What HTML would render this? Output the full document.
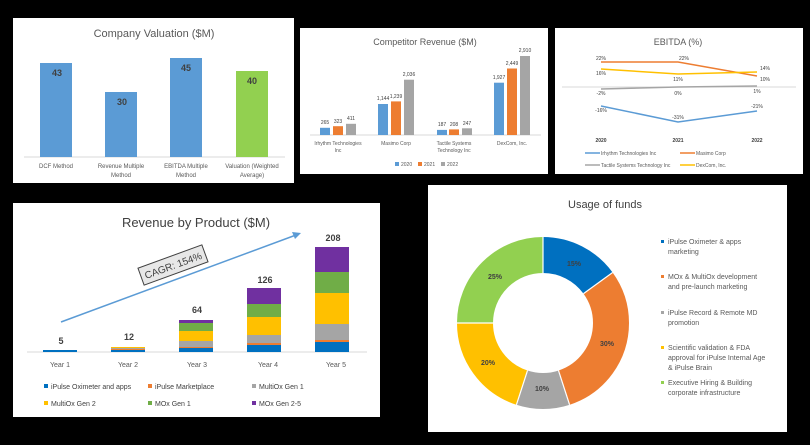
<!DOCTYPE html>
<html><head><meta charset="utf-8"><style>
html,body{margin:0;padding:0;background:#000;width:810px;height:445px;overflow:hidden}
svg{display:block;font-family:"Liberation Sans",sans-serif}
</style></head><body>
<svg width="810" height="445" viewBox="0 0 810 445">
<rect width="810" height="445" fill="#000"/>
<!-- Panel 1 -->
<rect x="13" y="18" width="281" height="165" fill="#fff"/>
<text x="154" y="37" font-size="11" fill="#595959" text-anchor="middle">Company Valuation ($M)</text>
<line x1="24" y1="157" x2="285" y2="157" stroke="#d9d9d9"/>
<rect x="40" y="63" width="32" height="94" fill="#5b9bd5"/>
<rect x="105" y="92" width="32" height="65" fill="#5b9bd5"/>
<rect x="170" y="58" width="32" height="99" fill="#5b9bd5"/>
<rect x="236" y="71" width="32" height="86" fill="#92d050"/>
<g font-size="9" font-weight="bold" fill="#404040" text-anchor="middle">
<text x="57" y="76">43</text><text x="122" y="105">30</text><text x="186" y="71">45</text><text x="252" y="84">40</text></g>
<g font-size="6" fill="#595959" text-anchor="middle">
<text x="56" y="168">DCF Method</text>
<text x="121" y="168">Revenue Multiple</text><text x="121" y="177">Method</text>
<text x="186" y="168">EBITDA Multiple</text><text x="186" y="177">Method</text>
<text x="252" y="168">Valuation (Weighted</text><text x="252" y="177">Average)</text></g>

<!-- Panel 2 -->
<rect x="300" y="28" width="248" height="146" fill="#fff"/>
<text x="425" y="45" font-size="9" fill="#595959" text-anchor="middle">Competitor Revenue ($M)</text>
<line x1="310" y1="135" x2="541" y2="135" stroke="#d9d9d9"/>
<g>
<rect x="320" y="127.8" width="10" height="7.2" fill="#5b9bd5"/><rect x="333" y="126.2" width="10" height="8.8" fill="#ed7d31"/><rect x="346" y="123.8" width="10" height="11.2" fill="#a5a5a5"/>
<rect x="378" y="104" width="10" height="31" fill="#5b9bd5"/><rect x="391" y="101.4" width="10" height="33.6" fill="#ed7d31"/><rect x="404" y="79.7" width="10" height="55.3" fill="#a5a5a5"/>
<rect x="437" y="129.9" width="10" height="5.1" fill="#5b9bd5"/><rect x="449" y="129.4" width="10" height="5.6" fill="#ed7d31"/><rect x="462" y="128.3" width="10" height="6.7" fill="#a5a5a5"/>
<rect x="494" y="82.7" width="10" height="52.3" fill="#5b9bd5"/><rect x="507" y="68.5" width="10" height="66.5" fill="#ed7d31"/><rect x="520" y="56" width="10" height="79" fill="#a5a5a5"/>
</g>
<g font-size="5" fill="#404040" text-anchor="middle">
<text x="325" y="124">265</text><text x="338" y="123">323</text><text x="351" y="120">411</text>
<text x="383" y="100">1,144</text><text x="396" y="98">1,239</text><text x="409" y="76">2,036</text>
<text x="442" y="126">187</text><text x="454" y="126">208</text><text x="467" y="125">247</text>
<text x="499" y="79">1,927</text><text x="512" y="65">2,449</text><text x="525" y="52">2,910</text></g>
<g font-size="5" fill="#595959" text-anchor="middle">
<text x="338" y="145">Irhythm Technologies</text><text x="338" y="152">Inc</text>
<text x="396" y="145">Masimo Corp</text>
<text x="454" y="145">Tactile Systems</text><text x="454" y="152">Technology Inc</text>
<text x="512" y="145">DexCom, Inc.</text></g>
<g font-size="5" fill="#595959">
<rect x="395" y="162" width="4" height="4" fill="#5b9bd5"/><text x="401" y="166">2020</text>
<rect x="418" y="162" width="4" height="4" fill="#ed7d31"/><text x="424" y="166">2021</text>
<rect x="441" y="162" width="4" height="4" fill="#a5a5a5"/><text x="447" y="166">2022</text></g>

<!-- Panel 3 -->
<rect x="555" y="28" width="248" height="146" fill="#fff"/>
<text x="678" y="45" font-size="9" fill="#595959" text-anchor="middle">EBITDA (%)</text>
<line x1="562" y1="87" x2="796" y2="87" stroke="#d9d9d9"/>
<polyline points="601,62 678,62 757,76" fill="none" stroke="#ed7d31" stroke-width="1.5"/>
<polyline points="601,69 678,74 757,72" fill="none" stroke="#ffc000" stroke-width="1.5"/>
<polyline points="601,89 678,87 757,86" fill="none" stroke="#a5a5a5" stroke-width="1.5"/>
<polyline points="601,106 678,122 757,111" fill="none" stroke="#5b9bd5" stroke-width="1.5"/>
<g font-size="5" fill="#404040" text-anchor="middle">
<text x="601" y="60">22%</text><text x="684" y="60">22%</text><text x="765" y="81">10%</text>
<text x="601" y="75">16%</text><text x="678" y="81">11%</text><text x="765" y="70">14%</text>
<text x="601" y="95">-2%</text><text x="678" y="95">0%</text><text x="757" y="93">1%</text>
<text x="601" y="112">-16%</text><text x="678" y="119">-31%</text><text x="757" y="108">-21%</text></g>
<g font-size="5" fill="#404040" font-weight="bold" text-anchor="middle">
<text x="601" y="142">2020</text><text x="678" y="142">2021</text><text x="757" y="142">2022</text></g>
<g font-size="5" fill="#595959">
<line x1="585" y1="153" x2="600" y2="153" stroke="#5b9bd5" stroke-width="1.5"/><text x="601" y="155">Irhythm Technologies Inc</text>
<line x1="680" y1="153" x2="695" y2="153" stroke="#ed7d31" stroke-width="1.5"/><text x="696" y="155">Masimo Corp</text>
<line x1="585" y1="165" x2="600" y2="165" stroke="#a5a5a5" stroke-width="1.5"/><text x="601" y="167">Tactile Systems Technology Inc</text>
<line x1="680" y1="165" x2="695" y2="165" stroke="#ffc000" stroke-width="1.5"/><text x="696" y="167">DexCom, Inc.</text></g>

<!-- Panel 4 -->
<rect x="13" y="203" width="367" height="214" fill="#fff"/>
<text x="196" y="227" font-size="13" fill="#404040" text-anchor="middle">Revenue by Product ($M)</text>
<line x1="27" y1="352" x2="367" y2="352" stroke="#d9d9d9"/>
<rect x="43" y="350" width="34" height="2" fill="#0070c0"/>
<rect x="111" y="350" width="34" height="2" fill="#0070c0"/><rect x="111" y="349" width="34" height="1" fill="#ed7d31"/><rect x="111" y="348" width="34" height="1" fill="#a5a5a5"/><rect x="111" y="347" width="34" height="1" fill="#ffc000"/>
<rect x="179" y="348" width="34" height="4" fill="#0070c0"/><rect x="179" y="347" width="34" height="1" fill="#ed7d31"/><rect x="179" y="341" width="34" height="6" fill="#a5a5a5"/><rect x="179" y="331" width="34" height="10" fill="#ffc000"/><rect x="179" y="323" width="34" height="8" fill="#70ad47"/><rect x="179" y="320" width="34" height="3" fill="#7030a0"/>
<rect x="247" y="345" width="34" height="7" fill="#0070c0"/><rect x="247" y="343" width="34" height="2" fill="#ed7d31"/><rect x="247" y="335" width="34" height="8" fill="#a5a5a5"/><rect x="247" y="317" width="34" height="18" fill="#ffc000"/><rect x="247" y="304" width="34" height="13" fill="#70ad47"/><rect x="247" y="288" width="34" height="16" fill="#7030a0"/>
<rect x="315" y="342" width="34" height="10" fill="#0070c0"/><rect x="315" y="340" width="34" height="2" fill="#ed7d31"/><rect x="315" y="324" width="34" height="16" fill="#a5a5a5"/><rect x="315" y="293" width="34" height="31" fill="#ffc000"/><rect x="315" y="272" width="34" height="21" fill="#70ad47"/><rect x="315" y="247" width="34" height="25" fill="#7030a0"/>
<g font-size="9" font-weight="bold" fill="#404040" text-anchor="middle">
<text x="61" y="344">5</text><text x="129" y="340">12</text><text x="197" y="313">64</text><text x="265" y="283">126</text><text x="333" y="241">208</text></g>
<g font-size="7" fill="#595959" text-anchor="middle">
<text x="60" y="367">Year 1</text><text x="128" y="367">Year 2</text><text x="197" y="367">Year 3</text><text x="268" y="367">Year 4</text><text x="336" y="367">Year 5</text></g>
<line x1="61" y1="322" x2="296" y2="235" stroke="#5b9bd5" stroke-width="1.5"/>
<polygon points="301,233 292,232 295,239" fill="#5b9bd5"/>
<g transform="translate(173,265) rotate(-20)">
<rect x="-34" y="-9" width="68" height="18" fill="#e7e7e7" stroke="#404040" stroke-width="1"/>
<text x="0" y="4" font-size="10" fill="#404040" text-anchor="middle">CAGR: 154%</text></g>
<g font-size="7" fill="#404040">
<rect x="44" y="384" width="4" height="4" fill="#0070c0"/><text x="51" y="389">iPulse Oximeter and apps</text>
<rect x="148" y="384" width="4" height="4" fill="#ed7d31"/><text x="155" y="389">iPulse Marketplace</text>
<rect x="252" y="384" width="4" height="4" fill="#a5a5a5"/><text x="259" y="389">MultiOx Gen 1</text>
<rect x="44" y="401" width="4" height="4" fill="#ffc000"/><text x="51" y="406">MultiOx Gen 2</text>
<rect x="148" y="401" width="4" height="4" fill="#70ad47"/><text x="155" y="406">MOx Gen 1</text>
<rect x="252" y="401" width="4" height="4" fill="#7030a0"/><text x="259" y="406">MOx Gen 2-5</text></g>

<!-- Panel 5 -->
<rect x="428" y="185" width="359" height="247" fill="#fff"/>
<text x="605" y="208" font-size="11" fill="#404040" text-anchor="middle">Usage of funds</text>
<g transform="translate(543,323) rotate(-90)" fill="none" stroke-width="36">
<circle r="68" stroke="#0070c0" stroke-dasharray="64.09 363.17" stroke-dashoffset="0"/>
<circle r="68" stroke="#ed7d31" stroke-dasharray="128.18 299.08" stroke-dashoffset="-64.09"/>
<circle r="68" stroke="#a5a5a5" stroke-dasharray="42.73 384.53" stroke-dashoffset="-192.27"/>
<circle r="68" stroke="#ffc000" stroke-dasharray="85.45 341.81" stroke-dashoffset="-235"/>
<circle r="68" stroke="#92d050" stroke-dasharray="106.81 320.45" stroke-dashoffset="-320.45"/>
</g>
<g stroke="#fff" stroke-width="1.2">
<line x1="543" y1="273" x2="543" y2="237"/>
<line x1="583.5" y1="293.6" x2="612.6" y2="272.5"/>
<line x1="558.5" y1="370.6" x2="569.6" y2="404.8"/>
<line x1="527.5" y1="370.6" x2="516.4" y2="404.8"/>
<line x1="493" y1="323" x2="457" y2="323"/></g>
<g font-size="7" font-weight="bold" fill="#404040" text-anchor="middle">
<text x="574" y="266">15%</text><text x="607" y="346">30%</text><text x="542" y="391">10%</text><text x="488" y="365">20%</text><text x="495" y="279">25%</text></g>
<g font-size="7" fill="#595959">
<rect x="661" y="240" width="3" height="3" fill="#0070c0"/><text x="668" y="244">iPulse Oximeter &amp; apps</text><text x="668" y="254">marketing</text>
<rect x="661" y="275" width="3" height="3" fill="#ed7d31"/><text x="668" y="279">MOx &amp; MultiOx development</text><text x="668" y="289">and pre-launch marketing</text>
<rect x="661" y="311" width="3" height="3" fill="#a5a5a5"/><text x="668" y="315">iPulse Record &amp; Remote MD</text><text x="668" y="325">promotion</text>
<rect x="661" y="346" width="3" height="3" fill="#ffc000"/><text x="668" y="350">Scientific validation &amp; FDA</text><text x="668" y="360">approval for iPulse Internal Age</text><text x="668" y="370">&amp; iPulse Brain</text>
<rect x="661" y="381" width="3" height="3" fill="#92d050"/><text x="668" y="385">Executive Hiring &amp; Building</text><text x="668" y="395">corporate infrastructure</text></g>
</svg>
</body></html>
